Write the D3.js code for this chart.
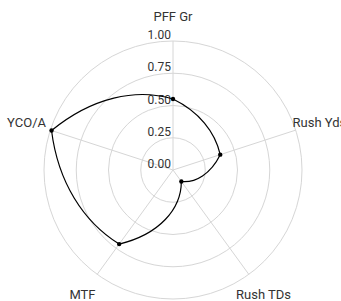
<!DOCTYPE html>
<html>
<head>
<meta charset="utf-8">
<script src="https://cdn.jsdelivr.net/npm/d3@7"></script>
<style>
  html, body { margin: 0; padding: 0; background: #fff; }
  svg { display: block; font-family: Roboto, sans-serif; }
</style>
</head>
<body>
<svg id="chart" width="341" height="301"></svg>
<script>
const axes = ["PFF Gr", "Rush Yds", "Rush TDs", "MTF", "YCO/A"];
const values = [0.55, 0.385, 0.11, 0.71, 0.99];
const ticks = [0, 0.25, 0.5, 0.75, 1.0];

const cx = 173, cy = 170, R = 129;

const svg = d3.select("#chart");
const g = svg.append("g").attr("transform", `translate(${cx},${cy})`);

const r = d3.scaleLinear().domain([0, 1]).range([0, R]);
const angle = d3.scalePoint().domain(axes.concat("_end")).range([0, 2 * Math.PI]);

const polar = (a, rad) => [rad * Math.sin(a), -rad * Math.cos(a)];

// grid circles
g.append("g")
  .selectAll("circle")
  .data(ticks.filter(d => d > 0))
  .join("circle")
  .attr("r", d => r(d))
  .attr("fill", "none")
  .attr("stroke", "#d6d6d6")
  .attr("stroke-width", 1);

// spokes
g.append("g")
  .selectAll("line")
  .data(axes)
  .join("line")
  .attr("x1", 0)
  .attr("y1", 0)
  .attr("x2", d => polar(angle(d), r(1))[0])
  .attr("y2", d => polar(angle(d), r(1))[1])
  .attr("stroke", "#d6d6d6")
  .attr("stroke-width", 1);

// tick labels
g.append("g")
  .selectAll("text")
  .data(ticks)
  .join("text")
  .attr("x", -2)
  .attr("y", d => -r(d) - 2)
  .attr("text-anchor", "end")
  .attr("font-size", 12)
  .attr("fill", "#333")
  .text(d => d3.format(".2f")(d));

// axis labels
g.append("g")
  .selectAll("text")
  .data(axes)
  .join("text")
  .attr("x", d => polar(angle(d), R + 25)[0])
  .attr("y", d => polar(angle(d), R + 25)[1])
  .attr("text-anchor", "middle")
  .attr("dy", "0.35em")
  .attr("font-size", 13)
  .attr("fill", "#333")
  .text(d => d);

const pts = axes.map((a, i) => ({ axis: a, value: values[i] }));

// each segment: bezier whose control points follow the polar interpolation
function radarPath(data) {
  const p = d3.path();
  const n = data.length;
  data.forEach((d, i) => {
    const a0 = angle(d.axis), r0 = r(d.value);
    if (i === 0) p.moveTo(...polar(a0, r0));
    const e = data[(i + 1) % n];
    let a1 = angle(e.axis);
    if (a1 < a0) a1 += 2 * Math.PI;
    const r1 = r(e.value);
    const c1 = polar(a0 + (a1 - a0) / 3, r0 + (r1 - r0) / 3);
    const c2 = polar(a0 + 2 * (a1 - a0) / 3, r0 + 2 * (r1 - r0) / 3);
    const end = polar(a1, r1);
    p.bezierCurveTo(c1[0], c1[1], c2[0], c2[1], end[0], end[1]);
  });
  p.closePath();
  return p.toString();
}

g.append("path")
  .datum(pts)
  .attr("d", radarPath)
  .attr("fill", "none")
  .attr("stroke", "#000")
  .attr("stroke-width", 1.2);

g.append("g")
  .selectAll("circle")
  .data(pts)
  .join("circle")
  .attr("cx", d => polar(angle(d.axis), r(d.value))[0])
  .attr("cy", d => polar(angle(d.axis), r(d.value))[1])
  .attr("r", 2.2)
  .attr("fill", "#000");
</script>
</body>
</html>
